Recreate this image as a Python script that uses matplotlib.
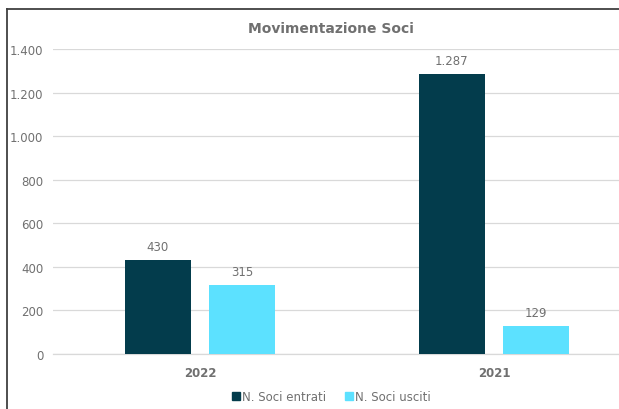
import numpy as np
import matplotlib.pyplot as plt
from matplotlib.lines import Line2D
from matplotlib.ticker import FuncFormatter

years = ["2022", "2021"]
soci_entrati = [430, 1287]
soci_usciti = [315, 129]
series_names = ["N. Soci entrati", "N. Soci usciti"]

DARK = "#033c4c"
LIGHT = "#5ce1ff"
TEXT = "#707070"
GRID = "#d9d9d9"

plt.rcParams['font.family'] = ['DejaVu Sans']

W, H = 619, 410
fig = plt.figure(figsize=(W / 100, H / 100), dpi=100)

# plot area in pixels: left 53, right 641 (runs past the edge), top 50, bottom 355
ax = fig.add_axes([53 / W, (H - 355) / H, 588 / W, 305 / H])

x = np.arange(len(years))
width = 0.225
off = 0.143
b1 = ax.bar(x - off, soci_entrati, width, color=DARK, label=series_names[0], zorder=3)
b2 = ax.bar(x + off, soci_usciti, width, color=LIGHT, label=series_names[1], zorder=3)

def fmt(v):
    return f"{int(v):,}".replace(",", ".")

for bars, vals in ((b1, soci_entrati), (b2, soci_usciti)):
    for rect, v in zip(bars, vals):
        ax.annotate(fmt(v), (rect.get_x() + rect.get_width() / 2, v),
                    xytext=(0, 5), textcoords="offset points",
                    ha="center", va="bottom", fontsize=8.5, color=TEXT)

ax.set_xlim(-0.5, 1.5)
ax.set_ylim(0, 1400)
ax.set_yticks(np.arange(0, 1401, 200))
ax.yaxis.set_major_formatter(FuncFormatter(lambda v, p: fmt(v)))
ax.set_xticks(x)
ax.set_xticklabels(years, fontweight="bold")
ax.tick_params(axis="y", length=0, pad=7, labelsize=8.5, labelcolor=TEXT)
ax.tick_params(axis="x", length=0, pad=9, labelsize=8.5, labelcolor=TEXT)
ax.grid(axis="y", color=GRID, linewidth=0.9, zorder=0)
for s in ("top", "right", "left"):
    ax.spines[s].set_visible(False)
ax.spines["bottom"].set_color(GRID)
ax.spines["bottom"].set_linewidth(0.9)

fig.text(331 / W, 1 - 29 / H, "Movimentazione Soci", ha="center", va="center",
         fontsize=10, fontweight="bold", color=TEXT)

handles = [Line2D([], [], marker="s", linestyle="none", markersize=6, color=DARK),
           Line2D([], [], marker="s", linestyle="none", markersize=6, color=LIGHT)]
fig.legend(handles, series_names, loc="center", bbox_to_anchor=(331 / W, 12 / H),
           ncol=2, frameon=False, fontsize=8.5, labelcolor=TEXT,
           handletextpad=0.1, columnspacing=1.5, handlelength=0.8)

# chart frame: only the left and top edges fall inside the image
fig.add_artist(Line2D([7 / W, 7 / W], [0, 1 - 10 / H], color="#404040", linewidth=1.3))
fig.add_artist(Line2D([7 / W, 1], [1 - 10 / H, 1 - 10 / H], color="#404040", linewidth=1.3))

fig.savefig("out.png", dpi=100)
